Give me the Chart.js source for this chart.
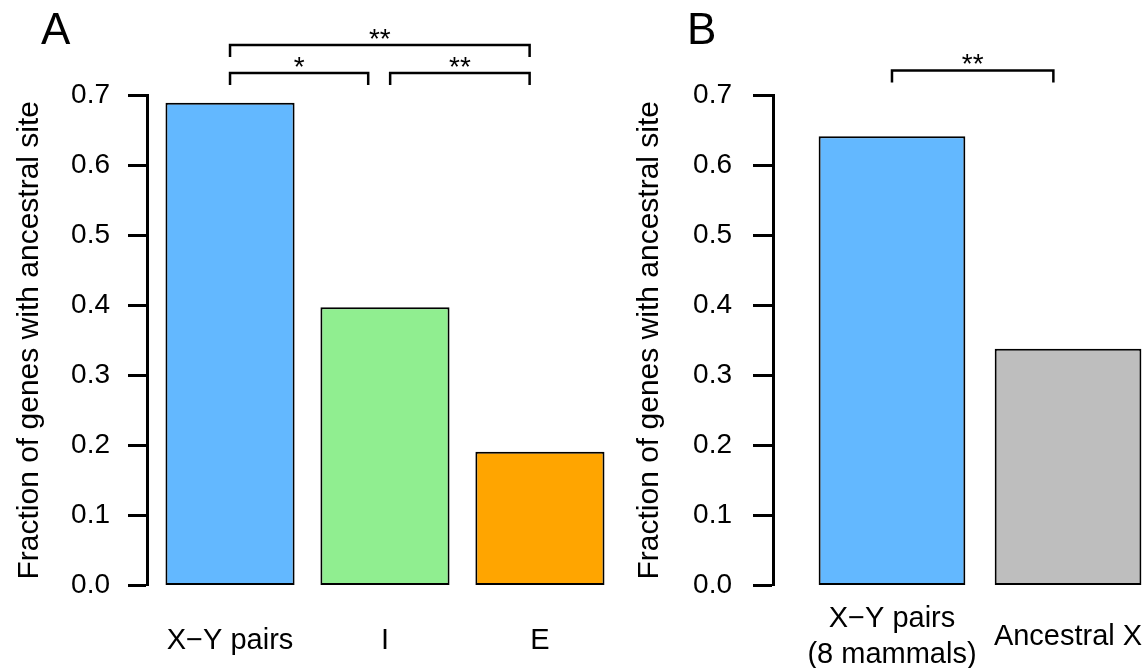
<!DOCTYPE html>
<html><head><meta charset="utf-8">
<script src="https://cdn.jsdelivr.net/npm/chart.js@4.4.1/dist/chart.umd.min.js"></script>
<style>
html,body{margin:0;padding:0;background:#fff;}
#wrap{position:relative;width:1148px;height:668px;overflow:hidden;background:#fff;}
canvas{position:absolute;top:0;}
</style></head><body>
<div id="wrap">
<canvas id="cA" width="620" height="668" style="left:0"></canvas>
<canvas id="cB" width="528" height="668" style="left:620px"></canvas>
</div>
<script>
// ---- data ----
const categoriesA = ['X\u2212Y pairs', 'I', 'E'];
const valuesA = [0.689, 0.397, 0.191];
const colorsA = ['#63B8FF', '#90EE90', '#FFA500'];

const categoriesB = [['X\u2212Y pairs', '(8 mammals)'], 'Ancestral X'];
const valuesB = [0.641, 0.338];
const colorsB = ['#63B8FF', '#BEBEBE'];

const yTicks = [0.0, 0.1, 0.2, 0.3, 0.4, 0.5, 0.6, 0.7];
const yTitle = 'Fraction of genes with ancestral site';

// significance brackets (x in bar-axis units, level in y units)
const bracketFromA = [0.7, 1.94, 0.7];
const bracketToA = [1.77, 3.02, 3.02];
const bracketLevelA = [0.7314, 0.7314, 0.7714];
const bracketLabelA = ['*', '**', '**'];

const bracketFromB = [0.7];
const bracketToB = [1.8];
const bracketLevelB = [0.735];
const bracketLabelB = ['**'];

const dropValue = 0.0171;
const FONT = '"Liberation Sans", Arial, Helvetica, sans-serif';

function annotPlugin(letter, lx, ly, from, to, level, labels) {
  return {
    id: 'annot',
    afterDraw(chart) {
      const ctx = chart.ctx, x = chart.scales.x, y = chart.scales.y;
      ctx.save();
      ctx.fillStyle = '#000'; ctx.strokeStyle = '#000';
      ctx.font = '44px ' + FONT; ctx.textAlign = 'left'; ctx.textBaseline = 'alphabetic';
      ctx.fillText(letter, lx, ly);
      ctx.lineWidth = 2.5; ctx.lineCap = 'butt'; ctx.lineJoin = 'miter';
      ctx.font = '28px ' + FONT; ctx.textAlign = 'center';
      for (let i = 0; i < from.length; i++) {
        const x1 = x.getPixelForValue(from[i]), x2 = x.getPixelForValue(to[i]);
        const yl = y.getPixelForValue(level[i]), yd = y.getPixelForValue(level[i] - dropValue);
        ctx.beginPath();
        ctx.moveTo(x1, yd); ctx.lineTo(x1, yl); ctx.lineTo(x2, yl); ctx.lineTo(x2, yd);
        ctx.stroke();
        const m = ctx.measureText(labels[i]);
        const cy = yl - 11;
        ctx.fillText(labels[i], (x1 + x2) / 2, cy + (m.actualBoundingBoxAscent - m.actualBoundingBoxDescent) / 2);
      }
      ctx.restore();
    }
  };
}

function makeChart(id, cats, vals, colors, cfg, plugin) {
  const centres = vals.map((v, i) => 0.7 + 1.2 * i);
  return new Chart(document.getElementById(id), {
    type: 'bar',
    data: {
      datasets: [{
        data: vals.map((v, i) => ({ x: centres[i], y: v })),
        backgroundColor: colors,
        borderColor: '#000',
        borderWidth: 2,
        borderSkipped: false,
        barPercentage: 1 / 1.2,
        categoryPercentage: 1
      }]
    },
    options: {
      responsive: false, animation: false, devicePixelRatio: 1,
      layout: { padding: { top: 95, left: 0, right: 0, bottom: 0 } },
      plugins: { legend: { display: false }, tooltip: { enabled: false } },
      scales: {
        x: {
          type: 'linear', min: cfg.xmin, max: cfg.xmax, offset: false,
          grid: { display: false, drawTicks: false },
          border: { display: false },
          afterBuildTicks: s => { s.ticks = centres.map(c => ({ value: c })); },
          afterFit: s => { s.height = 668 - 585.5; s.paddingLeft = 0; s.paddingRight = 0; },
          ticks: {
            callback: (v, i) => cats[i],
            autoSkip: false, maxRotation: 0, minRotation: 0,
            color: '#000', font: { family: FONT, size: 29, lineHeight: 1.25 },
            padding: cfg.xpad, crossAlign: 'center'
          }
        },
        y: {
          min: 0, max: 0.7,
          afterBuildTicks: s => { s.ticks = yTicks.map(v => ({ value: v })); },
          afterFit: s => { s.width = cfg.axisX; s.paddingTop = 0; s.paddingBottom = 0; },
          ticks: {
            callback: v => Number(v).toFixed(1),
            color: '#000', font: { family: FONT, size: 28 }, padding: cfg.ypad
          },
          grid: { drawOnChartArea: false, drawTicks: true, tickLength: cfg.tickLen, tickWidth: 3, tickColor: '#000' },
          border: { display: true, color: '#000', width: 3 },
          title: {
            display: true, text: yTitle, color: '#000',
            font: { family: FONT, size: 30, lineHeight: 1.2 },
            padding: { top: 12, bottom: 0 }
          }
        }
      }
    },
    plugins: [plugin]
  });
}

makeChart('cA', categoriesA, valuesA, colorsA,
  { xmin: 0.057, xmax: 3.72, xpad: 55, axisX: 147, tickLen: 19, ypad: 18 },
  annotPlugin('A', 41, 44, bracketFromA, bracketToA, bracketLevelA, bracketLabelA));

makeChart('cB', categoriesB, valuesB, colorsB,
  { xmin: -0.111, xmax: 2.445, xpad: 33, axisX: 153, tickLen: 20, ypad: 21 },
  annotPlugin('B', 67, 44, bracketFromB, bracketToB, bracketLevelB, bracketLabelB));
</script>
</body></html>
